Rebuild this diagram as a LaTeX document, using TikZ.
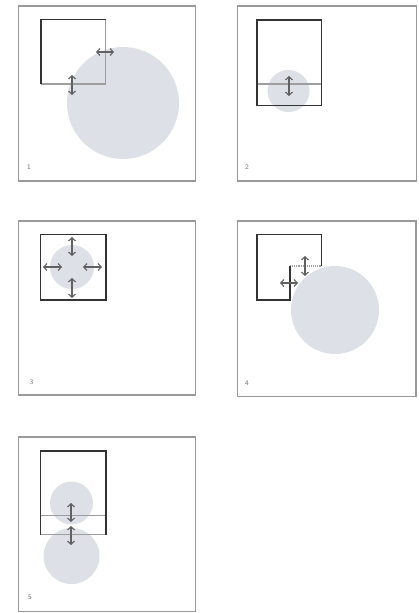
\documentclass[tikz,border=0pt]{standalone}
\usetikzlibrary{arrows.meta}
\definecolor{circ}{HTML}{DDE0E7}
\begin{document}
\begin{tikzpicture}[x=1pt,y=-1pt,
  panel/.style={draw=black!40,line width=1.2pt},
  disc/.style={fill=circ,draw=none},
  frame/.style={draw=black!80,line width=1.9pt},
  soft/.style={draw=black!38,line width=1.1pt},
  dbl/.style={{Straight Barb[length=3.2pt,width=7pt]}-{Straight Barb[length=3.2pt,width=7pt]},draw=black!62,line width=1.1pt},
  num/.style={font=\sffamily\fontsize{7}{7}\selectfont,text=black!55,inner sep=0pt}]
\useasboundingbox (0,0) rectangle (418,613);
% ---------- panel 1
\draw[panel] (18.5,6) rectangle (195.5,181);
\fill[disc] (123,103) circle (56);
\draw[soft] (105.5,19.5) -- (105.5,84) -- (41,84);
\draw[frame] (41,84) -- (41,19.5) -- (105.5,19.5);
\coordinate (a1l) at (96,52); \coordinate (a1r) at (114,52);
\coordinate (a1t) at (72,75); \coordinate (a1b) at (72,95);
\draw[dbl] (a1l) -- (a1r);
\draw[dbl] (a1t) -- (a1b);
\node[num] (n1) at (29,167) {1};
% ---------- panel 2
\draw[panel] (237.5,6) rectangle (416.5,181);
\fill[disc] (288.5,91) circle (21);
\draw[soft] (257,84) -- (321.5,84);
\draw[frame] (257,20) rectangle (321.5,105.5);
\coordinate (a2t) at (289,76); \coordinate (a2b) at (289,96);
\draw[dbl] (a2t) -- (a2b);
\node[num] (n2) at (247,167) {2};
% ---------- panel 3
\draw[panel] (18.5,221) rectangle (195.5,395);
\fill[disc] (72,267) circle (22);
\draw[frame] (40.5,234.5) rectangle (106,300);
\coordinate (a3a) at (72,237); \coordinate (a3b) at (72,256);
\coordinate (a3c) at (72,278); \coordinate (a3d) at (72,298);
\coordinate (a3e) at (43,267); \coordinate (a3f) at (62,267);
\coordinate (a3g) at (83,267); \coordinate (a3h) at (102,267);
\draw[dbl] (a3a) -- (a3b);
\draw[dbl] (a3c) -- (a3d);
\draw[dbl] (a3e) -- (a3f);
\draw[dbl] (a3g) -- (a3h);
\node[num] (n3) at (31.5,382) {3};
% ---------- panel 4
\draw[panel] (237.5,221) rectangle (416,396.5);
\fill[disc] (335,310) circle (44);
\draw[soft,densely dotted] (290,266) -- (321.5,266);
\draw[frame] (290,266) -- (290,300) -- (257,300) -- (257,234.5) -- (321.5,234.5) -- (321.5,266);
\coordinate (a4t) at (305,256); \coordinate (a4b) at (305,276);
\coordinate (a4l) at (280,283); \coordinate (a4r) at (298,283);
\draw[dbl] (a4t) -- (a4b);
\draw[dbl] (a4l) -- (a4r);
\node[num] (n4) at (247,383) {4};
% ---------- panel 5
\draw[panel] (18.5,437) rectangle (195.5,611.5);
\fill[disc] (71.5,503) circle (21.5);
\fill[disc] (71.5,556) circle (28);
\draw[soft] (40.5,515.5) -- (106,515.5);
\draw[soft] (40.5,534.5) -- (106,534.5);
\draw[frame] (40.5,534.5) -- (40.5,451) -- (106,451) -- (106,534.5);
\coordinate (a5a) at (71,503); \coordinate (a5b) at (71,522);
\coordinate (a5c) at (71,526); \coordinate (a5d) at (71,545);
\draw[dbl] (a5a) -- (a5b);
\draw[dbl] (a5c) -- (a5d);
\node[num] (n5) at (30,597) {5};
\end{tikzpicture}
\end{document}
